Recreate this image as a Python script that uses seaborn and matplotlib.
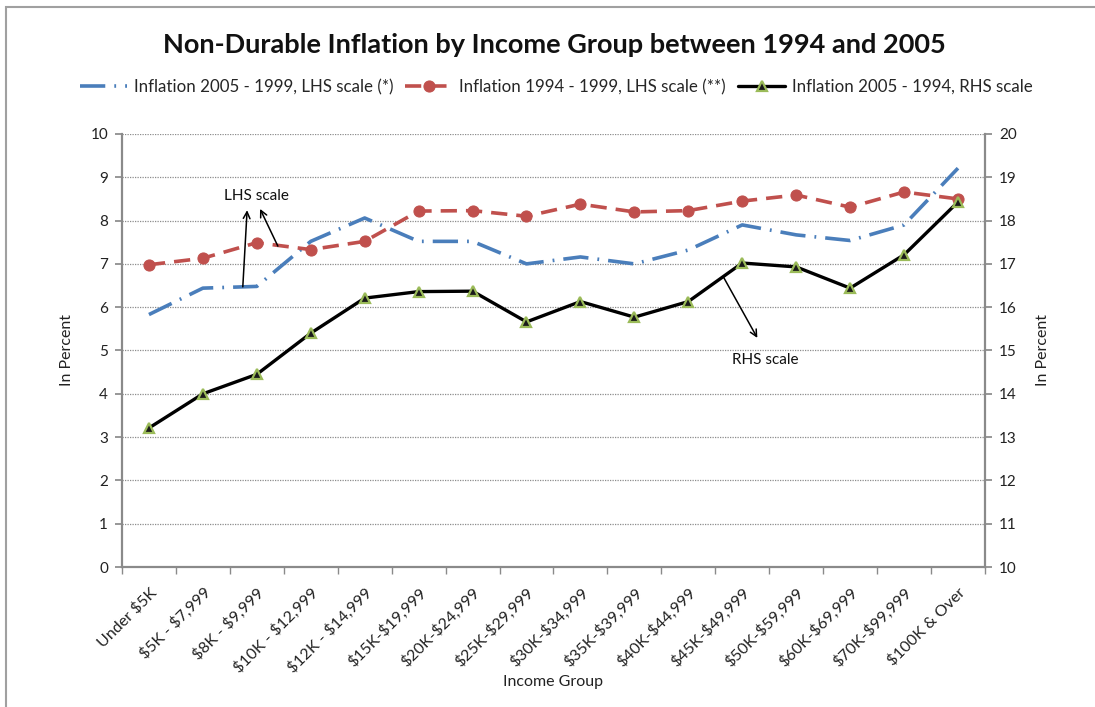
import numpy as np
import pandas as pd
import matplotlib
matplotlib.use("Agg")
import matplotlib.pyplot as plt
import seaborn as sns
from matplotlib.patches import Rectangle

groups = ["Under $5K", "$5K - $7,999", "$8K - $9,999", "$10K - $12,999", "$12K - $14,999",
          "$15K-$19,999", "$20K-$24,999", "$25K-$29,999", "$30K-$34,999", "$35K-$39,999",
          "$40K-$44,999", "$45K-$49,999", "$50K-$59,999", "$60K-$69,999", "$70K-$99,999",
          "$100K & Over"]

# LHS series
infl_05_99 = [5.83, 6.44, 6.48, 7.52, 8.06, 7.52, 7.52, 7.00, 7.16, 7.00, 7.32, 7.90, 7.67, 7.54, 7.90, 9.21]
infl_94_99 = [6.98, 7.13, 7.49, 7.33, 7.52, 8.22, 8.23, 8.10, 8.38, 8.20, 8.23, 8.45, 8.59, 8.31, 8.66, 8.50]
# RHS series
infl_05_94 = [13.21, 14.00, 14.45, 15.40, 16.21, 16.36, 16.37, 15.66, 16.13, 15.77, 16.13, 17.02, 16.93, 16.44, 17.21, 18.43]

lab_a = "Inflation 2005 - 1999, LHS scale (*)"
lab_b = "Inflation 1994 - 1999, LHS scale (**)"
lab_c = "Inflation 2005 - 1994, RHS scale"

df = pd.DataFrame({"group": groups, "a": infl_05_99, "b": infl_94_99, "c": infl_05_94})

sns.set_theme(style="white")
plt.rcParams["font.family"] = ["Lato", "DejaVu Sans"]
plt.rcParams["text.parse_math"] = False

fig, ax = plt.subplots(figsize=(10.95, 7.07), dpi=100)
fig.subplots_adjust(left=0.1114, right=0.8995, top=0.8105, bottom=0.198)
ax2 = ax.twinx()

blue = "#4A7EBB"
red = "#C0504D"
green = "#9BBB59"

sns.lineplot(data=df, x="group", y="a", ax=ax, color=blue, lw=2.6, sort=False,
             dashes=False, label=lab_a, legend=False)
ax.lines[-1].set_dashes((7, 2.5, 0.5, 2.5))
sns.lineplot(data=df, x="group", y="b", ax=ax, color=red, lw=2.6, sort=False,
             marker="o", markersize=8, markeredgecolor=red, label=lab_b, legend=False)
ax.lines[-1].set_dashes((4.5, 2.5))
sns.lineplot(data=df, x="group", y="c", ax=ax2, color="black", lw=2.4, sort=False,
             marker="^", markersize=7, markerfacecolor="#1a1a1a", markeredgecolor=green,
             markeredgewidth=1.6, label=lab_c, legend=False)

ax.set_ylim(0, 10)
ax2.set_ylim(10, 20)
ax.set_yticks(range(0, 11))
ax2.set_yticks(range(10, 21))
ax.set_xlim(-0.5, len(groups) - 0.5)

ax.yaxis.grid(True, color="#8c8c8c", linestyle=(0, (1, 1)), lw=0.9)
ax.xaxis.grid(False)
ax2.grid(False)

for a in (ax, ax2):
    for s in a.spines.values():
        s.set_visible(False)
ax.spines["left"].set_visible(True)
ax.spines["bottom"].set_visible(True)
ax2.spines["right"].set_visible(True)
for s in (ax.spines["left"], ax.spines["bottom"], ax2.spines["right"]):
    s.set_color("#8a8a8a")
    s.set_linewidth(1.6)

ax.tick_params(axis="y", left=True, length=5, color="#8a8a8a", labelsize=11, labelcolor="#222222", pad=5)
ax2.tick_params(axis="y", right=True, length=5, color="#8a8a8a", labelsize=11, labelcolor="#222222", pad=5)
ax.set_xticks(range(len(groups)))
ax.set_xticklabels(groups, rotation=45, ha="right", rotation_mode="anchor", fontsize=11.5, color="#222222")
ax.set_xticks(np.arange(-0.5, len(groups), 1), minor=True)
ax.tick_params(axis="x", which="major", bottom=False, pad=7)
ax.tick_params(axis="x", which="minor", bottom=True, length=5, color="#8a8a8a", width=1)

ax.set_xlabel("Income Group", fontsize=11.5, color="#222222", labelpad=0)
ax.set_ylabel("In Percent", fontsize=11.5, color="#222222", labelpad=12)
ax2.set_ylabel("In Percent", fontsize=11.5, color="#222222", labelpad=14)

fig.suptitle("Non-Durable Inflation by Income Group between 1994 and 2005",
             x=0.506, y=0.954, fontsize=19.5, fontweight="bold", color="#111111")

handles = ax.get_lines()[:2] + ax2.get_lines()[:1]
fig.legend(handles, [lab_a, lab_b, lab_c], loc="center", bbox_to_anchor=(0.508, 0.877),
           ncol=3, frameon=False, fontsize=12.2, handlelength=2.8, columnspacing=0.7,
           handletextpad=0.4)

# annotations
arrow = dict(arrowstyle="->", color="black", lw=1.1, shrinkA=0, shrinkB=0)
ax.text(2.0, 8.57, "LHS scale", ha="center", va="center", fontsize=11, color="#111111")
ax.annotate("", xy=(1.82, 8.24), xytext=(1.74, 6.47), arrowprops=arrow)
ax.annotate("", xy=(2.06, 8.27), xytext=(2.39, 7.41), arrowprops=arrow)
ax.text(11.43, 4.78, "RHS scale", ha="center", va="center", fontsize=11, color="#111111")
ax.annotate("", xy=(11.28, 5.29), xytext=(10.65, 6.70), arrowprops=arrow)

fig.patches.append(Rectangle((6 / 1095, -0.1), 1.2, 1.1 - 7 / 707, transform=fig.transFigure,
                             fill=False, edgecolor="#a0a0a0", lw=1.5))

fig.savefig("out.png", dpi=100)
